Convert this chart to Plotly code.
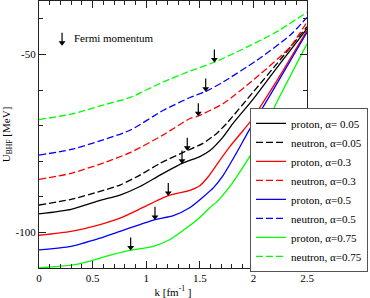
import plotly.graph_objects as go

# ---------------- data ----------------
names = ["proton, α= 0.05", "neutron, α=0.05", "proton, α=0.3", "neutron, α=0.3",
         "proton, α=0.5", "neutron, α=0.5", "proton, α=0.75", "neutron, α=0.75"]
colors = ["#000000", "#000000", "#ff0000", "#ff0000", "#0000ff", "#0000ff", "#00ff00", "#00ff00"]
dashes = ["solid", "7px,3px", "solid", "7px,3px", "solid", "7px,3px", "solid", "7px,3px"]

k_p005 = [0.0, 0.3, 0.569, 0.756, 0.942, 1.129, 1.334, 1.50, 1.595, 1.72, 1.81, 2.0, 2.25, 2.5]
U_p005 = [-94.8, -93.5, -91.0, -89.5, -87.1, -83.9, -80.6, -78.7, -77.0, -73.1, -69.4, -62.5, -52.5, -42.8]

k_n005 = [0.0, 0.3, 0.569, 0.756, 0.942, 1.129, 1.383, 1.53, 1.657, 1.75, 2.0, 2.25, 2.5]
U_n005 = [-92.3, -90.7, -88.5, -86.7, -83.9, -80.6, -77.0, -75.0, -72.2, -69.4, -60.5, -51.5, -42.2]

k_p03 = [0.0, 0.3, 0.569, 0.756, 0.942, 1.206, 1.409, 1.50, 1.58, 1.657, 1.78, 1.906, 1.98, 2.2, 2.5]
U_p03 = [-100.8, -99.7, -97.8, -96.0, -93.4, -89.7, -88.2, -86.9, -84.3, -81.0, -75.9, -71.3, -68.5, -58.3, -43.3]

k_n03 = [0.0, 0.3, 0.59, 0.849, 1.16, 1.409, 1.486, 1.72, 2.03, 2.34, 2.5]
U_n03 = [-85.1, -83.4, -80.6, -77.6, -72.6, -68.0, -67.3, -63.8, -56.4, -48.0, -40.9]

k_p05 = [0.0, 0.3, 0.569, 0.756, 0.942, 1.082, 1.253, 1.409, 1.533, 1.626, 1.72, 1.84, 1.97, 2.155, 2.5]
U_p05 = [-104.9, -103.9, -101.6, -99.7, -97.8, -96.4, -95.3, -93.0, -90.0, -87.5, -83.9, -77.8, -70.8, -61.5, -43.8]

k_n05 = [0.0, 0.3, 0.59, 0.849, 1.16, 1.409, 1.555, 1.72, 2.03, 2.34, 2.5]
U_n05 = [-78.3, -76.7, -74.1, -71.3, -65.7, -62.1, -60.4, -57.7, -51.7, -44.7, -39.6]

k_p075 = [0.0, 0.3, 0.404, 0.69, 0.855, 1.066, 1.222, 1.378, 1.50, 1.595, 1.657, 1.78, 1.906, 2.03, 2.124, 2.217, 2.5]
U_p075 = [-110.0, -109.2, -108.6, -106.2, -105.0, -103.9, -102.0, -98.7, -95.8, -93.0, -91.5, -87.1, -81.5, -75.5, -69.5, -63.5, -47.0]

k_n075 = [0.0, 0.3, 0.59, 0.849, 1.16, 1.409, 1.636, 1.875, 2.186, 2.5]
U_n075 = [-68.3, -66.8, -64.3, -62.1, -57.7, -54.7, -52.2, -48.9, -44.2, -38.2]

k_series = [k_p005, k_n005, k_p03, k_n03, k_p05, k_n05, k_p075, k_n075]
U_series = [U_p005, U_n005, U_p03, U_n03, U_p05, U_n05, U_p075, U_n075]

# Fermi momenta (arrow tips) for each series
fermi_k = [1.334, 1.383, 1.206, 1.486, 1.082, 1.555, 0.855, 1.636]
fermi_U = [-80.6, -77.0, -89.7, -67.3, -96.4, -60.4, -105.0, -52.2]

# key arrow next to the "Fermi momentum" label
key_k = [0.215]
key_U = [-47.5]
key_label = "Fermi momentum"

x_tick_vals = [0, 0.5, 1, 1.5, 2, 2.5]
x_tick_text = ["0", "0.5", "1", "1.5", "2", "2.5"]
y_tick_vals = [-100, -50]
y_tick_text = ["-100", "-50"]

# ---------------- figure ----------------
FONT = "Liberation Serif, Times New Roman, serif"
SHAFT_LO, SHAFT_HI, HEAD_OFF = 1.0, 3.6, 0.75   # arrow geometry in data units above the tip

fig = go.Figure()
for k, U, nm, c, d in zip(k_series, U_series, names, colors, dashes):
    fig.add_trace(go.Scatter(x=k, y=U, mode="lines", name=nm,
                             line=dict(color=c, width=1.3, dash=d, shape="spline", smoothing=0.6)))


def add_arrows(ks, Us):
    sx, sy = [], []
    for k, U in zip(ks, Us):
        sx += [k, k, None]
        sy += [U + SHAFT_LO, U + SHAFT_HI, None]
    fig.add_trace(go.Scatter(x=sx, y=sy, mode="lines", showlegend=False, hoverinfo="skip",
                             line=dict(color="black", width=1.2)))
    fig.add_trace(go.Scatter(x=list(ks), y=[U + HEAD_OFF for U in Us], mode="markers",
                             showlegend=False, hoverinfo="skip",
                             marker=dict(symbol="triangle-down", size=6, color="black",
                                         line=dict(width=0))))


add_arrows(fermi_k, fermi_U)
add_arrows(key_k, key_U)

fig.add_annotation(x=key_k[0] + 0.095, y=key_U[0] + 2.0, xref="x", yref="y", text=key_label,
                   showarrow=False, xanchor="left", yanchor="middle",
                   font=dict(family=FONT, size=11, color="black"))

axis_common = dict(showline=True, linecolor="#222222", linewidth=1.3, mirror="ticks",
                   ticks="inside", tickcolor="#222222", tickwidth=1, ticklen=7,
                   showgrid=False, zeroline=False,
                   tickfont=dict(family=FONT, size=11, color="black"))

fig.update_xaxes(range=[0, 2.5], tickvals=x_tick_vals, ticktext=x_tick_text,
                 minor=dict(dtick=0.1, tick0=0, ticks="inside", ticklen=4, tickcolor="#222222", showgrid=False),
                 title=dict(text="k [fm<sup>-1</sup> ]", font=dict(family=FONT, size=11, color="black")),
                 **axis_common)
fig.update_yaxes(range=[-110, -35], tickvals=y_tick_vals, ticktext=y_tick_text,
                 minor=dict(dtick=10, tick0=-100, ticks="inside", ticklen=4, tickcolor="#222222", showgrid=False),
                 title=dict(text="U<sub>BHF</sub> [MeV]", font=dict(family=FONT, size=11, color="black"),
                            standoff=12),
                 **axis_common)

fig.update_layout(
    width=370, height=298,
    margin=dict(l=39, r=63, t=1, b=30, autoexpand=False),
    paper_bgcolor="white", plot_bgcolor="white",
    showlegend=True,
    legend=dict(x=1.2276, xanchor="right", y=0.6, yanchor="top",
                bgcolor="white", bordercolor="#555555", borderwidth=1,
                font=dict(family=FONT, size=11, color="black"),
                itemwidth=30, tracegroupgap=0),
)

fig.write_html("out.html", config={"displayModeBar": False},
               post_script="document.body.style.margin='0px';")
